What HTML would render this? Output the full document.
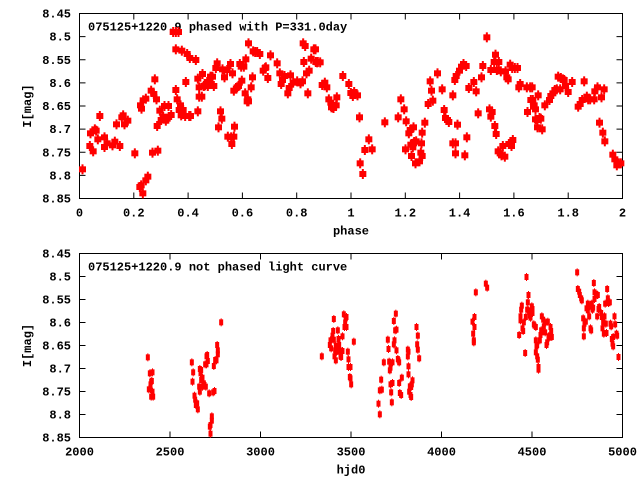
<!DOCTYPE html>
<html><head><meta charset="utf-8"><style>
html,body{margin:0;padding:0;background:#fff;}
svg text{font-family:"Liberation Mono",monospace;font-weight:bold;font-size:12px;fill:#000;}
</style></head><body>
<svg id="s" width="640" height="480" xmlns="http://www.w3.org/2000/svg">
<rect x="0" y="0" width="640" height="480" fill="#fff"/>
</svg>
<script>
const s=document.getElementById('s');const NS='http://www.w3.org/2000/svg';
function el(t,a,txt){const e=document.createElementNS(NS,t);for(const k in a)e.setAttribute(k,a[k]);if(txt!==undefined)e.textContent=txt;s.appendChild(e);return e;}
const L=79.5,R=622.5;
function panel(T,B,xt,yt,title,xlabel){
  // y ticks
  for(let i=0;i<=8;i++){const y=T+(B-T)*i/8;
    el('line',{x1:L,y1:y,x2:L+6,y2:y,stroke:'#000'});el('line',{x1:R,y1:y,x2:R-6,y2:y,stroke:'#000'});
    el('text',{x:71,y:y+4,'text-anchor':'end'},yt[i]);}
  for(let i=0;i<xt.length;i++){const x=L+(R-L)*i/(xt.length-1);
    el('line',{x1:x,y1:B,x2:x,y2:B-6,stroke:'#000'});el('line',{x1:x,y1:T,x2:x,y2:T+6,stroke:'#000'});
    el('text',{x:x,y:B+18,'text-anchor':'middle'},xt[i]);}
  el('rect',{x:L,y:T,width:R-L,height:B-T,fill:'none',stroke:'#000'});
  el('text',{x:88,y:T+17},title);
  el('text',{x:(L+R)/2,y:B+36,'text-anchor':'middle'},xlabel);
  const cy=(T+B)/2;el('text',{x:0,y:0,transform:`translate(31,${cy}) rotate(-90)`,'text-anchor':'middle'},'I[mag]');
}
const yt=['8.45','8.5','8.55','8.6','8.65','8.7','8.75','8.8','8.85'];
panel(13.5,198.5,['0','0.2','0.4','0.6','0.8','1','1.2','1.4','1.6','1.8','2'],yt,'075125+1220.9 phased with P=331.0day','phase');
panel(253.5,437.5,['2000','2500','3000','3500','4000','4500','5000'],yt,'075125+1220.9 not phased light curve','hjd0');
let g='';
const z1=[[246,508],[270,400],[268,438],[278,454],[283,388],[287,392],[292,418],[298,348],[312,412],[312,441],[320,430],[336,436],[343,425],[348,373],[358,438],[364,352],[368,346],[372,373],[382,362],[403,460],[418,561],[422,556],[427,580],[436,541],[442,530],[420,316],[423,326],[428,301],[436,296],[452,272],[456,458],[460,282],[463,238],[468,298],[470,378],[472,452],[478,332],[482,360],[488,350],[492,318],[496,362],[500,356],[504,318],[512,345],[518,96],[526,96],[526,148],[526,270],[530,298],[534,96],[536,330],[540,316],[542,346],[544,152],[548,330],[554,348],[556,246],[560,162],[568,174],[566,348],[570,348],[586,180],[592,236],[592,334],[596,262],[596,290],[604,290],[606,222],[610,258],[614,256],[620,246],[622,258],[628,246],[630,230],[636,230],[640,258],[646,204],[650,190],[654,382],[660,334],[664,356],[666,208],[672,232],[680,210],[682,410],[690,192],[692,412],[694,432],[696,220],[700,410],[702,380],[700,272],[710,262],[714,258],[724,242],[718,192],[722,200],[730,200],[734,280],[736,178],[740,304],[742,298],[744,304],[752,262],[744,130],[756,232],[758,154],[764,156],[770,156],[778,162],[788,212],[794,204],[796,202],[802,234],[810,166],[830,190],[838,220],[842,252],[846,240],[852,228],[862,280],[866,264],[870,226],[878,248],[890,244],[900,250],[906,244],[908,130],[910,186],[914,138],[918,220],[922,280],[926,212],[932,176],[940,148],[946,186],[952,186]];
const z2=[[0,118],[5,157],[14,157],[20,225],[28,218],[34,232],[40,268],[46,278],[48,292],[54,294],[52,285],[62,286],[64,262],[82,198],[100,222],[106,249],[112,258],[116,246],[126,256],[132,322],[134,460],[142,492],[148,420],[160,388],[170,418],[208,337],[248,322],[256,268],[266,298],[270,418],[272,334],[280,370],[284,360],[286,404],[288,438],[292,412],[294,352],[296,396],[300,460],[302,394],[312,454],[316,428],[318,400],[320,368],[320,438],[328,338],[338,282],[344,214],[348,242],[352,272],[366,190],[380,238],[386,300],[390,324],[396,330],[400,336],[412,256],[412,400],[418,210],[420,400],[422,198],[420,430],[426,344],[432,182],[438,170],[444,162],[452,168],[454,382],[448,436],[460,234],[475,216],[482,244],[488,310],[498,202],[502,168],[514,82],[522,298],[526,180],[526,320],[530,306],[538,348],[536,156],[540,134],[542,372],[544,180],[548,424],[550,156],[554,430],[556,184],[558,436],[562,408],[568,440],[570,184],[574,202],[578,208],[580,402],[584,164],[588,408],[590,174],[592,390],[598,174],[606,174],[610,232],[614,222],[634,232],[636,306],[644,232],[646,270],[650,232],[652,270],[654,290],[656,286],[660,298],[660,328],[666,330],[666,352],[668,256],[672,324],[676,326],[680,358],[688,286],[702,270],[706,258],[712,250],[718,240],[724,238],[728,200],[734,238],[736,204],[742,208],[746,210],[750,228],[758,246],[770,216],[788,290],[794,282],[800,270],[806,214],[814,260],[818,268],[824,268],[836,268],[838,244],[846,232],[852,338],[858,262],[862,368],[866,238],[868,394],[892,434],[898,448],[904,466],[910,460],[916,460]];
function big(x,y){g+=`<rect x="${x-3}" y="${y-3}" width="7" height="6"/><rect x="${x-0.5}" y="${y-5}" width="2" height="10"/>`;}
function small(x,y){g+=`<rect x="${x-1.5}" y="${y-3}" width="4" height="6"/><rect x="${x}" y="${y-4}" width="1" height="8"/>`;}
z1.forEach(p=>big(p[0]/3,p[1]/3));
z2.forEach(p=>big(315+p[0]/3,10+p[1]/3));
const z3=[[262,337],[268,385],[276,382],[272,410],[274,408],[270,418],[270,432],[265,433],[276,440],[272,455],[278,455],[394,352],[398,382],[396,410],[402,452],[404,464],[406,480],[410,475],[412,493],[418,372],[420,385],[422,375],[416,425],[418,440],[422,405],[426,398],[426,425],[430,415],[432,420],[436,425],[434,358],[438,334],[438,358],[442,348],[440,330],[446,445],[448,545],[450,540],[454,527],[454,514],[450,566],[458,442],[462,438],[460,363],[464,345],[468,346],[470,300],[472,316],[472,328],[482,232]];
const z4=[[34,334],[58,300],[60,286],[62,310],[66,272],[68,258],[70,222],[70,284],[72,334],[74,316],[76,346],[76,302],[78,320],[80,318],[82,256],[84,282],[86,300],[88,316],[90,334],[92,336],[96,274],[96,318],[100,208],[102,246],[104,232],[106,220],[108,216],[108,246],[112,320],[114,343],[114,366],[120,366],[120,400],[122,418],[118,396],[130,290],[204,476],[208,508],[208,436],[212,404],[214,434],[220,352],[232,284],[234,312],[236,350],[238,376],[240,368],[240,418],[242,442],[244,472],[246,352],[246,414],[250,298],[250,228],[252,286],[254,256],[256,206],[258,254],[258,316],[262,342],[264,346],[266,352],[266,414],[268,444],[272,450],[274,398],[292,314],[292,334],[294,320],[294,364],[294,388],[296,440],[298,424],[300,450],[302,456],[302,426],[304,418],[306,406],[318,246],[322,272],[320,298],[322,314],[326,340],[486,230],[488,266],[490,286],[490,292],[492,246],[492,216],[496,142],[526,116],[530,128],[626,270],[630,214],[630,226],[632,194],[634,182],[636,250],[638,258],[640,232],[644,324],[646,216],[648,96],[650,194],[652,172],[654,196],[654,150],[656,200],[658,212],[660,218],[664,184],[666,192],[666,204],[670,238],[672,242],[676,246],[676,286],[676,322],[678,304],[680,300],[680,334],[682,344],[684,366],[684,374],[688,286],[690,270],[692,256],[694,214],[694,262],[698,224],[700,244],[704,262],[706,232],[708,300],[710,292],[712,230],[714,274],[716,278],[718,272],[720,246],[722,258],[724,276],[800,82],[802,132],[806,140],[808,150],[812,160],[814,166],[818,220],[820,274],[820,250],[822,236],[826,230],[828,190],[832,176],[832,196],[836,214],[838,184],[840,250],[842,256],[844,176],[846,194],[848,188],[850,114],[852,142],[852,162],[856,146],[860,214],[860,150],[862,150],[864,192],[866,186],[872,204],[874,216],[876,250],[878,232],[880,266],[882,214],[884,176],[886,236],[888,264],[890,132],[892,160],[894,174],[898,172],[900,236],[902,244],[904,282],[906,296],[908,304],[908,276],[912,214],[914,238],[918,266],[920,272],[924,336]];
z3.forEach(p=>small(60+p[0]/3,245+p[1]/3));
z4.forEach(p=>small(310+p[0]/3,245+p[1]/3));
const gg=document.createElementNS(NS,'g');gg.setAttribute('fill','#f00');gg.innerHTML=g;s.appendChild(gg);
</script>
</body></html>
